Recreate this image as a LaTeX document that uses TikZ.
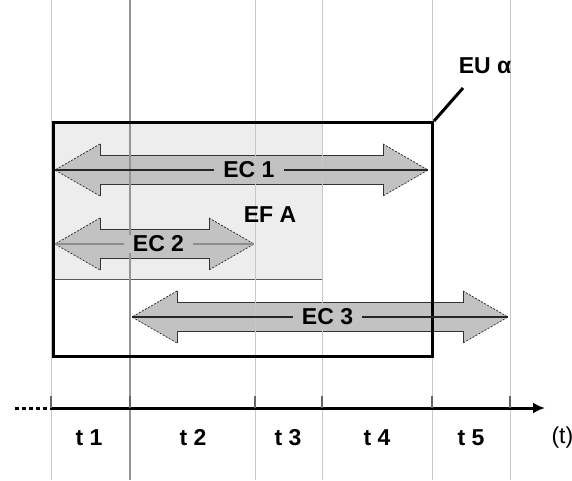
\documentclass[tikz,border=0pt]{standalone}
\usepackage{fontspec}
\setmainfont{Liberation Sans}
\usetikzlibrary{arrows.meta,positioning}
\tikzstyle{gridline} = [draw=black!22, line width=1pt]
\tikzstyle{maingrid} = [draw=black!42, line width=2pt]
\tikzstyle{unitframe} = [rectangle, draw=black, line width=3pt, minimum width=379pt, minimum height=234pt, anchor=north west, inner sep=0pt]
\tikzstyle{funcframe} = [rectangle, draw=black!65, fill=black!7, line width=1pt, minimum width=270pt, minimum height=158pt, anchor=north west, inner sep=0pt]
\tikzstyle{spanfill} = [fill=black!24]
\tikzstyle{spanedge} = [draw=black!80, line width=0.8pt]
\tikzstyle{headedge} = [spanedge, dash pattern=on 2pt off 1.5pt]
\tikzstyle{midline} = [draw=black!85, line width=1.2pt]
\tikzstyle{tag} = [font=\fontsize{23}{23}\selectfont\bfseries, inner sep=1pt]
\tikzstyle{spanlabel} = [tag, fill=black!24, inner xsep=9pt, pos=0.52]
\tikzstyle{timeaxis} = [line width=3pt, -{Latex[length=12pt,width=11pt]}]

% fat double arrow: left tip x, right tip x, height
\newcommand{\spanbody}[3]{%
  \fill[spanfill] (#1,#3) -- (#1+45,#3-26) -- (#1+45,#3-14.5) -- (#2-45,#3-14.5) -- (#2-45,#3-26) -- (#2,#3)
    -- (#2-45,#3+26) -- (#2-45,#3+14.5) -- (#1+45,#3+14.5) -- (#1+45,#3+26) -- cycle;
  \draw[headedge] (#1+45,#3-26) -- (#1,#3) -- (#1+45,#3+26);
  \draw[headedge] (#2-45,#3-26) -- (#2,#3) -- (#2-45,#3+26);
  \draw[spanedge] (#1+45,#3-26) -- (#1+45,#3-14.5) -- (#2-45,#3-14.5) -- (#2-45,#3-26);
  \draw[spanedge] (#1+45,#3+26) -- (#1+45,#3+14.5) -- (#2-45,#3+14.5) -- (#2-45,#3+26);
}

\begin{document}
\begin{tikzpicture}[x=1pt, y=-1pt]
\useasboundingbox[fill=white] (0,0) rectangle (572,480);

% Function block EF A
\node[funcframe] (efa) at (52,121) {};

% Bodies of the three spans
\spanbody{55}{428}{170}
\spanbody{55}{254}{244}
\spanbody{132}{508}{317}

% Time grid
\foreach \x in {51,255,322,432,510}
  \draw[gridline] (\x,0) -- (\x,480);
\draw[maingrid] (130,0) -- (130,480);

% Unit EU alpha
\node[unitframe] (eu) at (52,121) {};

% Span ends and labels
\coordinate (ec1l) at (55,170);
\coordinate (ec1r) at (428,170);
\coordinate (ec2l) at (55,244);
\coordinate (ec2r) at (254,244);
\coordinate (ec3l) at (132,317);
\coordinate (ec3r) at (508,317);
\draw[midline] (ec1l) -- node[spanlabel] (ec1) {EC 1} (ec1r);
\draw[midline, draw=black!45] (ec2l) -- node[spanlabel] (ec2) {EC 2} (ec2r);
\draw[midline] (ec3l) -- node[spanlabel] (ec3) {EC 3} (ec3r);
\node[tag] (efalabel) at (270,215) {EF A};

% Leader to the unit name
\node[tag] (eulabel) at (485,66) {EU α};
\coordinate (eutag) at (463,88);
\draw[line width=3pt] (eu.north east) -- (eutag);

% Time axis
\coordinate (tstart) at (15,408);
\coordinate (tzero) at (51,408);
\coordinate (tend) at (545,408);
\draw[line width=3pt, dash pattern=on 4pt off 3pt] (tstart) -- (tzero);
\draw[timeaxis] (tzero) -- (tend);
\foreach \x in {51,130,255,322,432,510}
  \draw[draw=black!60, line width=1.5pt] (\x,396) -- (\x,408);
\foreach \lbl/\x in {t 1/89, t 2/193, t 3/288, t 4/377, t 5/471}
  \node[tag] (t\x) at (\x,438) {\lbl};
\node[anchor=west, font=\fontsize{23}{23}\selectfont] (tunit) at (548,438) {(t)};

\end{tikzpicture}
\end{document}
